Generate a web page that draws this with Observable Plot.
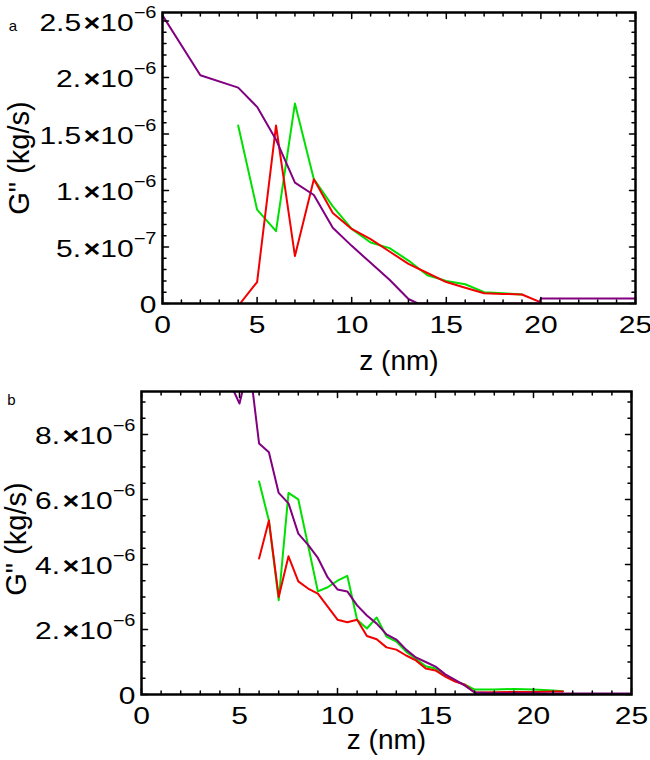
<!DOCTYPE html>
<html><head><meta charset="utf-8">
<script src="https://cdn.jsdelivr.net/npm/d3@7"></script>
<script src="https://cdn.jsdelivr.net/npm/@observablehq/plot@0.6"></script>
<style>
body{margin:0;background:#fff;color:#000;}
#chart{width:650px;height:760px;}
#chart svg{display:block;overflow:visible;}
</style></head><body><div id="chart"></div>
<script>
// ---- shared axis ----
const zTicks = [0, 5, 10, 15, 20, 25];
const zTickLabels = ["0", "5", "10", "15", "20", "25"];
const xLabel = "z (nm)";
const yLabel = 'G" (kg/s)';

// ---- panel a (G'' in units of 1e-6 kg/s) ----
const yTicksA = [0, 0.5, 1, 1.5, 2, 2.5];
const yTickLabelsA = ["0", "5.×10^−7", "1.×10^−6", "1.5×10^−6", "2.×10^−6", "2.5×10^−6"];
const purpleA_z = [0, 2, 4, 5, 6, 7, 8, 9, 10, 11, 12, 13, 13.5, 14, 15, 16, 17, 18, 19, 19.9, 20, 21, 22, 23, 24, 25];
const purpleA_G = [2.55, 2.02, 1.91, 1.74, 1.45, 1.07, 0.96, 0.67, 0.51, 0.36, 0.21, 0.04, 0, 0, 0, 0, 0, 0, 0, 0, 0.045, 0.045, 0.045, 0.045, 0.045, 0.045];
const greenA_z = [4, 5, 6, 7, 8, 9, 10, 11, 12, 13, 14, 15, 16, 17, 18, 19];
const greenA_G = [1.575, 0.83, 0.64, 1.77, 1.1, 0.86, 0.66, 0.54, 0.49, 0.38, 0.25, 0.2, 0.17, 0.1, 0.09, 0.08];
const redA_z = [4.1, 5, 6, 7, 8, 9, 10, 11, 12, 13, 14, 15, 16, 17, 18, 19, 20];
const redA_G = [0, 0.19, 1.575, 0.42, 1.1, 0.8, 0.66, 0.57, 0.46, 0.35, 0.27, 0.19, 0.14, 0.09, 0.085, 0.08, 0.01];

// ---- panel b (G'' in units of 1e-6 kg/s) ----
const yTicksB = [0, 2, 4, 6, 8];
const yTickLabelsB = ["0", "2.×10^−6", "4.×10^−6", "6.×10^−6", "8.×10^−6"];
const purpleB_z = [4, 4.5, 5, 5.5, 6, 6.5, 7, 7.5, 8, 8.5, 9, 9.5, 10, 10.5, 11, 11.5, 12, 12.5, 13, 13.5, 14, 14.5, 15, 15.5, 16, 16.5, 17, 18, 19, 20, 21, 22, 23, 24, 25];
const purpleB_G = [10.6, 9.6, 8.95, 10.2, 7.72, 7.45, 6.2, 5.88, 4.95, 4.6, 4.2, 3.6, 3.23, 3.17, 2.74, 2.43, 2.18, 1.85, 1.69, 1.38, 1.14, 1.0, 0.86, 0.62, 0.45, 0.27, 0.06, 0.04, 0.04, 0.04, 0.03, 0.03, 0.03, 0.03, 0.03];
const greenB_z = [6, 6.5, 7, 7.5, 8, 9, 9.5, 10, 10.5, 11, 11.5, 12, 12.5, 13, 13.5, 14, 14.5, 15, 15.5, 16, 16.5, 17, 18, 19, 20, 21, 21.5];
const greenB_G = [6.55, 5.35, 2.9, 6.2, 6.0, 3.17, 3.3, 3.5, 3.65, 2.3, 2.03, 2.37, 1.78, 1.63, 1.32, 1.1, 0.87, 0.8, 0.6, 0.42, 0.3, 0.15, 0.15, 0.17, 0.15, 0.12, 0.1];
const redB_z = [6, 6.5, 7, 7.5, 8, 8.5, 9, 9.5, 10, 10.5, 11, 11.5, 12, 12.5, 13, 13.5, 14, 14.5, 15, 15.5, 16, 16.5, 17, 18, 19, 20, 21, 21.5];
const redB_G = [4.18, 5.35, 3.0, 4.25, 3.48, 3.26, 3.1, 2.7, 2.3, 2.22, 2.3, 1.8, 1.7, 1.45, 1.38, 1.2, 1.05, 0.8, 0.74, 0.55, 0.4, 0.3, 0.06, 0.07, 0.08, 0.08, 0.09, 0.09];

const COLORS = {purple: "#800080", green: "#00e000", red: "#f20000"};
const FONT = "Liberation Sans, Arial, Helvetica, sans-serif";
const pts = (zs, gs) => zs.map((z, i) => ({z, G: gs[i]}));

const tickShape = {draw(ctx, l) { ctx.moveTo(0, 0); ctx.lineTo(0, -l); }};
function frameTicks(xMax, yMax, xMaj, xMin, yMaj, yMin) {
  const o = {anchor: "start", shape: tickShape, stroke: "black", strokeWidth: 1.5};
  const v = (data, ch, L) => Plot.vector(data, {...o, ...ch, length: L});
  return [
    v(xMaj, {x: d => d, y: 0, rotate: 0}, 6), v(xMin, {x: d => d, y: 0, rotate: 0}, 3.5),
    v(xMaj, {x: d => d, y: yMax, rotate: 180}, 6), v(xMin, {x: d => d, y: yMax, rotate: 180}, 3.5),
    v(yMaj, {x: 0, y: d => d, rotate: 90}, 6), v(yMin, {x: 0, y: d => d, rotate: 90}, 3.5),
    v(yMaj, {x: xMax, y: d => d, rotate: -90}, 6), v(yMin, {x: xMax, y: d => d, rotate: -90}, 3.5)
  ];
}

function panel({height, mt, ml, mr, mb, yMax, yTicks, yLabels, yMinor, series, letter, letterDx, letterDy, labDx, labDy, xLabDy}) {
  const xMinor = d3.range(0, 26).filter(d => d % 5 !== 0);
  return Plot.plot({
    width: 650, height, marginTop: mt, marginLeft: ml, marginRight: mr, marginBottom: mb,
    x: {domain: [0, 25]}, y: {domain: [0, yMax]},
    style: {fontFamily: FONT, background: "white", overflow: "visible"},
    marks: [
      ...series.map(([data, c]) => Plot.line(data, {x: "z", y: "G", stroke: COLORS[c], strokeWidth: 2, clip: true})),
      Plot.frame({stroke: "black", strokeWidth: 2.5}),
      ...frameTicks(25, yMax, zTicks, xMinor, yTicks, yMinor),
      Plot.axisX(zTicks, {tickSize: 0, tickPadding: 12, fontSize: 24, label: null, fontFamily: FONT,
        tickFormat: d => zTickLabels[zTicks.indexOf(d)]}),
      Plot.axisY(yTicks, {tickSize: 0, tickPadding: 6, fontSize: 24, label: null, dy: 2, fontFamily: FONT,
        tickFormat: d => yLabels[yTicks.indexOf(d)]}),
      Plot.text([xLabel], {text: d => d, frameAnchor: "bottom", dy: xLabDy, fontSize: 28, fontFamily: FONT,
        textAnchor: "middle", lineAnchor: "middle"}),
      Plot.text([yLabel], {text: d => d, frameAnchor: "left", dx: labDx, dy: labDy, rotate: -90, fontSize: 29,
        fontFamily: FONT, textAnchor: "middle", lineAnchor: "middle", ariaLabel: "ylabel"}),
      Plot.text([letter], {text: d => d, frameAnchor: "top-left", dx: letterDx, dy: letterDy, fontSize: 15,
        fontFamily: FONT, textAnchor: "middle", lineAnchor: "middle"})
    ]
  });
}

function stretch(el, kx, ky) {
  let tr = el.getAttribute("transform") || "";
  if (!tr) {
    const x = el.getAttribute("x") || 0;
    tr = `translate(${x},0)`;
    el.removeAttribute("x");
  }
  el.setAttribute("transform", tr + ` scale(${kx},${ky})`);
}
const NS = "http://www.w3.org/2000/svg";
function postProcess(svg) {
  svg.querySelectorAll('g[aria-label="y-axis tick label"] text, g[aria-label="x-axis tick label"] text').forEach(el => {
    const s = el.textContent;
    if (s.includes("^")) {
      const [b, e] = s.split("^");
      const [m, p] = b.split("×");
      el.textContent = m;
      const times = document.createElementNS(NS, "tspan");
      times.setAttribute("font-size", "23");
      times.setAttribute("font-weight", "bold");
      times.textContent = "\u200A×";
      el.appendChild(times);
      const pow = document.createElementNS(NS, "tspan");
      pow.textContent = p;
      el.appendChild(pow);
      const t = document.createElementNS(NS, "tspan");
      t.setAttribute("font-size", "16");
      t.setAttribute("dy", "-13");
      t.textContent = e;
      el.appendChild(t);
    }
    stretch(el, 1.25, 1);
  });
  svg.querySelectorAll('g[aria-label="ylabel"] text').forEach(el => stretch(el, 1, 1.2));
}

const chart = document.getElementById("chart");
const a = panel({
  height: 375, mt: 12, ml: 162, mr: 15, mb: 72, yMax: 2.575,
  yTicks: yTicksA, yLabels: yTickLabelsA, yMinor: d3.range(0, 26).filter(i => i % 5 !== 0).map(i => i / 10),
  series: [[pts(greenA_z, greenA_G), "green"], [pts(redA_z, redA_G), "red"], [pts(purpleA_z, purpleA_G), "purple"]],
  letter: "a", letterDx: -149.5, letterDy: 14, labDx: -143, labDy: 0, xLabDy: 58
});
const b = panel({
  height: 385, mt: 16, ml: 141, mr: 19, mb: 66, yMax: 9.32,
  yTicks: yTicksB, yLabels: yTickLabelsB, yMinor: d3.range(0, 19).filter(i => i % 4 !== 0).map(i => i / 2),
  series: [[pts(greenB_z, greenB_G), "green"], [pts(redB_z, redB_G), "red"], [pts(purpleB_z, purpleB_G), "purple"]],
  letter: "b", letterDx: -130, letterDy: 9, labDx: -125, labDy: -4, xLabDy: 46
});
chart.appendChild(a);
chart.appendChild(b);
postProcess(a);
postProcess(b);
</script></body></html>
